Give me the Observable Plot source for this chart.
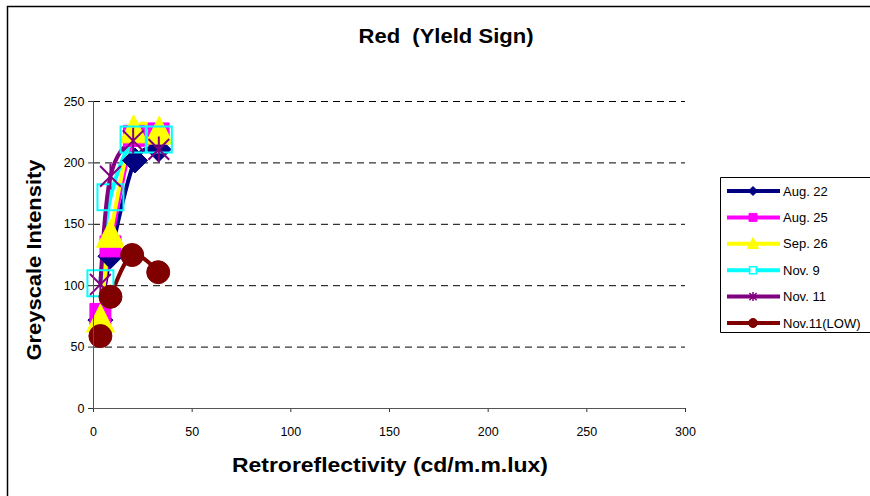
<!DOCTYPE html>
<html>
<head>
<meta charset="utf-8">
<script src="https://cdn.jsdelivr.net/npm/d3@7"></script>
<script src="https://cdn.jsdelivr.net/npm/@observablehq/plot@0.6"></script>
<style>
  html, body { margin: 0; padding: 0; background: #fff; overflow: hidden; width: 870px; height: 496px; }
  svg { font-family: "Liberation Sans", Arial, sans-serif; display: block; }
</style>
</head>
<body>
<div id="chart"></div>
<script>
// ---- data ----
const seriesNames = ["Aug. 22", "Aug. 25", "Sep. 26", "Nov. 9", "Nov. 11", "Nov.11(LOW)"];
const seriesColors = ["#000080", "#FF00FF", "#FFFF00", "#00FFFF", "#800080", "#800000"];

const aug22X = [3.5, 8.6, 21, 33];
const aug22Y = [72, 124, 202, 211];
const aug25X = [3.5, 8.6, 20.5, 33];
const aug25Y = [77, 132, 222, 224];
const sep26X = [3.5, 8.6, 20.3, 33.3];
const sep26Y = [72, 141, 226, 225];
const nov9X = [3.5, 8.6, 20.3, 33.1];
const nov9Y = [102, 172, 219, 219];
const nov11X = [3.5, 8.6, 20.1, 33.1];
const nov11Y = [101, 189, 218, 211];
const nov11LowX = [3.5, 8.6, 19.6, 32.8];
const nov11LowY = [59, 91, 125, 111];

const xTicks = [0, 50, 100, 150, 200, 250, 300];
const yTicks = [0, 50, 100, 150, 200, 250];
const gridY = [50, 100, 150, 200, 250];

const titleText = "Red  (Yleld Sign)";
const xTitle = "Retroreflectivity (cd/m.m.lux)";
const yTitle = "Greyscale Intensity";

// ---- custom symbols (size -> half-extent r) ----
const rOf = size => Math.sqrt(size / Math.PI);
const symDiamond = { draw(c, s) { const r = rOf(s); c.moveTo(0, -r); c.lineTo(r, 0); c.lineTo(0, r); c.lineTo(-r, 0); c.closePath(); } };
const symSquare = { draw(c, s) { const r = rOf(s); c.rect(-r, -r, 2 * r, 2 * r); } };
const symTriangle = { draw(c, s) { const r = rOf(s); c.moveTo(0, -r * 1.15); c.lineTo(r, r * 0.85); c.lineTo(-r, r * 0.85); c.closePath(); } };
const symStar = { draw(c, s) { const r = rOf(s); const d = r * 0.8; c.moveTo(0, -r); c.lineTo(0, r); c.moveTo(-d, -d); c.lineTo(d, d); c.moveTo(-d, d); c.lineTo(d, -d); } };
const symCircle = { draw(c, s) { const r = rOf(s); c.moveTo(r, 0); c.arc(0, 0, r, 0, 2 * Math.PI); } };

const xs = [aug22X, aug25X, sep26X, nov9X, nov11X, nov11LowX];
const ys = [aug22Y, aug25Y, sep26Y, nov9Y, nov11Y, nov11LowY];
const symbols = [symDiamond, symSquare, symTriangle, symSquare, symStar, symCircle];
const sizes = [12.5, 10.5, 14, 13, 13, 11.5];
const hollow = [false, false, false, true, true, false];

const tables = seriesNames.map((name, i) => xs[i].map((x, j) => ({ series: name, x, y: ys[i][j] })));

const marks = [
  Plot.ruleY(gridY, { stroke: "#000", strokeWidth: 1, strokeDasharray: "7,5" }),
];
// all lines first, then all markers (spreadsheet drawing order)
tables.forEach((t, i) => {
  marks.push(Plot.line(t, { x: "x", y: "y", stroke: seriesColors[i], strokeWidth: 4, curve: "cardinal" }));
});
tables.forEach((t, i) => {
  marks.push(Plot.dot(t, {
    x: "x", y: "y", symbol: () => symbols[i], r: sizes[i],
    fill: hollow[i] ? "none" : seriesColors[i],
    stroke: seriesColors[i], strokeWidth: hollow[i] ? 2 : 1
  }));
});
marks.push(
  Plot.axisX({ ticks: xTicks, tickSize: 4, tickPadding: 15, fontSize: 12.5, stroke: "#333", color: "#000", label: null }),
  Plot.axisY({ ticks: yTicks, tickSize: 5, tickPadding: 4, fontSize: 12.5, stroke: "#333", color: "#000", label: null }),
  Plot.ruleX([0], { stroke: "#555" }),
  Plot.ruleY([0], { stroke: "#555" })
);

const chart = Plot.plot({
  width: 870,
  height: 496,
  marginLeft: 93,
  marginRight: 185,
  marginTop: 101,
  marginBottom: 88,
  style: { fontFamily: "'Liberation Sans', Arial, sans-serif", background: "#fff", overflow: "hidden" },
  x: { domain: [0, 300], label: null },
  y: { domain: [0, 250], label: null },
  marks
});
document.getElementById("chart").appendChild(chart);

// ---- decorations: frame, titles, legend ----
const svg = d3.select(chart);
svg.insert("path", ":first-child")
  .attr("d", "M7.5,496V6.5H870")
  .attr("fill", "none").attr("stroke", "#000").attr("stroke-width", 1.5);

svg.append("text").attr("x", 446).attr("y", 43)
  .attr("text-anchor", "middle").attr("font-weight", "bold").attr("font-size", 20)
  .attr("textLength", 175).attr("lengthAdjust", "spacingAndGlyphs")
  .style("white-space", "pre").attr("xml:space", "preserve").attr("fill", "#000")
  .text(titleText);

svg.append("text").attr("x", 390).attr("y", 472)
  .attr("text-anchor", "middle").attr("font-weight", "bold").attr("font-size", 20)
  .attr("textLength", 316).attr("lengthAdjust", "spacingAndGlyphs").attr("fill", "#000")
  .text(xTitle);

svg.append("text").attr("transform", "translate(41,260) rotate(-90)")
  .attr("text-anchor", "middle").attr("font-weight", "bold").attr("font-size", 20)
  .attr("textLength", 201).attr("lengthAdjust", "spacingAndGlyphs").attr("fill", "#000")
  .text(yTitle);

const lg = svg.append("g");
lg.append("path").attr("d", "M875,177.5H720.5V332.5H875")
  .attr("fill", "#fff").attr("stroke", "#000").attr("stroke-width", 1);
const legendSizes = [4.5, 4, 5.5, 3.5, 4.5, 4.5];
seriesNames.forEach((name, i) => {
  const cy = 191 + i * 26.4;
  lg.append("line").attr("x1", 727).attr("x2", 780).attr("y1", cy).attr("y2", cy)
    .attr("stroke", seriesColors[i]).attr("stroke-width", 4);
  const s = legendSizes[i];
  lg.append("path").attr("transform", `translate(753,${cy})`)
    .attr("d", d3.symbol(symbols[i], Math.PI * s * s)())
    .attr("fill", hollow[i] ? "none" : seriesColors[i])
    .attr("stroke", seriesColors[i])
    .attr("stroke-width", hollow[i] ? 1.5 : 1);
  if (i === 3) {
    lg.append("rect").attr("x", 750.5).attr("y", cy - 2.5).attr("width", 5).attr("height", 5).attr("fill", "#fff");
  }
  lg.append("text").attr("x", 783).attr("y", cy + 4.5).attr("font-size", 13).attr("fill", "#000")
    .attr("text-anchor", "start")
    .text(name);
});
</script>
</body>
</html>
